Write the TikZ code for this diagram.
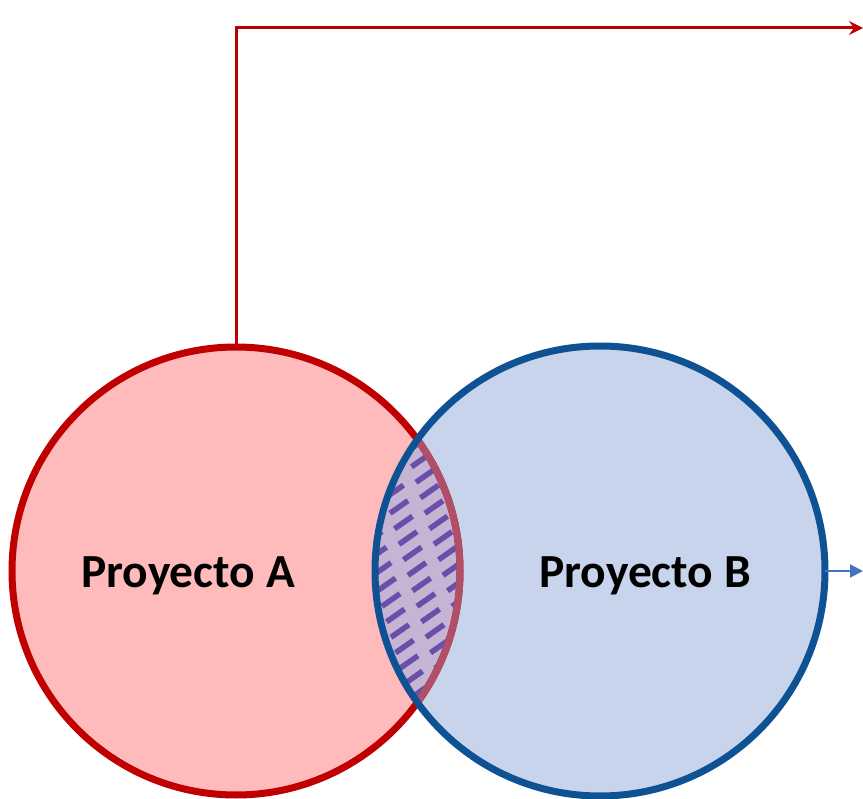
\documentclass[tikz,border=0pt]{standalone}
\usepackage{fontspec}
\setmainfont{Carlito}
\usetikzlibrary{arrows.meta}
\definecolor{pinkA}{HTML}{FFBBBB}
\definecolor{redA}{HTML}{C00000}
\definecolor{blueB}{HTML}{C8D4EC}
\definecolor{strokeB}{HTML}{0F5294}
\definecolor{lensfill}{HTML}{C6B4D4}
\definecolor{mauve}{HTML}{B05068}
\definecolor{hatchc}{HTML}{6A4FAA}
\definecolor{bluearrow}{HTML}{4472C4}
\tikzset{
  circA/.style={draw=redA,line width=7pt},
  circB/.style={draw=strokeB,line width=7pt},
  hatchdash/.style={draw=hatchc,line width=5.5pt},
  label/.style={font=\bfseries\fontsize{47.5}{52}\selectfont,text=black,inner sep=0pt},
  redconn/.style={draw=redA,line width=3pt,-{Stealth[length=14pt,width=14pt,inset=5pt]}},
  blueconn/.style={draw=bluearrow,line width=2pt,-{Triangle[length=13pt,width=13pt]}}
}
\begin{document}
\begin{tikzpicture}[x=1pt,y=-1pt]
\useasboundingbox (0,0) rectangle (863,799);
\coordinate (ca) at (236,571);
\coordinate (cb) at (600,571);
\coordinate (Atop) at (236,347);
\coordinate (Bright) at (825,571);
\coordinate (corner) at (236,28);
\coordinate (redend) at (863,28);
\coordinate (blueend) at (863,571);
% fills
\fill[pinkA] (ca) circle (224);
\fill[blueB] (cb) circle (225);
\begin{scope}
  \clip (ca) circle (224);
  \fill[lensfill] (cb) circle (225);
\end{scope}
% outline of A
\draw[circA] (ca) circle (224);
\begin{scope}
  \clip (cb) circle (225);
  \draw[draw=mauve,line width=7pt] (ca) circle (224);
\end{scope}
% hatching in lens
\begin{scope}
  \clip (ca) circle (220.5);
  \clip (cb) circle (225);
  \foreach \i in {-7,...,11}{
    \foreach \j in {-4,...,3}{
      \draw[hatchdash] (408+35*\j+4.5*\i-9,538+15.5*\i+6.3) -- (408+35*\j+4.5*\i+9,538+15.5*\i-6.3);
    }
  }
\end{scope}
% outline of B
\draw[circB] (cb) circle (225);
% connectors
\draw[redconn] (Atop) -- (corner) -- (redend);
\draw[blueconn] (Bright) -- (blueend);
% labels
\node[label] (la) at (188,576) {Proyecto A};
\node[label] (lb) at (645,576) {Proyecto B};
\end{tikzpicture}
\end{document}
